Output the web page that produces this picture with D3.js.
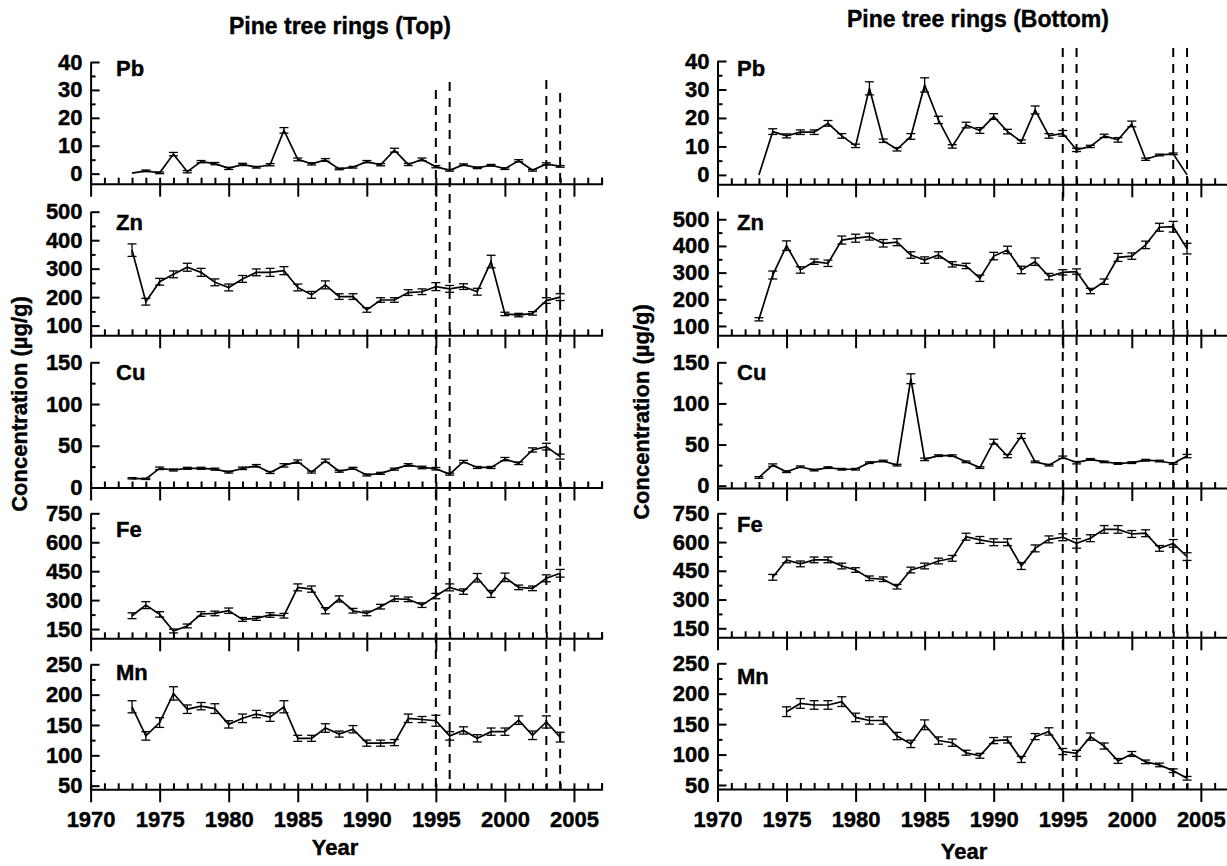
<!DOCTYPE html>
<html>
<head>
<meta charset="utf-8">
<script src="https://cdn.jsdelivr.net/npm/d3@7/dist/d3.min.js"></script>
<style>
  body { margin: 0; background: #fff; }
  svg text { font-family: "Liberation Sans", Arial, sans-serif; font-weight: bold; fill: #000; }
</style>
</head>
<body>
<svg id="chart" width="1227" height="866"></svg>
<script>
// sampling years (tree rings)
var years = [1973, 1974, 1975, 1976, 1977, 1978, 1979, 1980, 1981, 1982, 1983, 1984, 1985, 1986, 1987, 1988,
             1989, 1990, 1991, 1992, 1993, 1994, 1995, 1996, 1997, 1998, 1999, 2000, 2001, 2002, 2003, 2004];
var markYears = [1995, 1996, 2003, 2004];

// Top of the tree
var topPb = [0.2, 1.0, 0.3, 7.0, 0.7, 4.3, 3.6, 1.9, 3.3, 2.3, 3.2, 15.5, 5.1, 3.5, 4.9, 1.7,
             2.3, 4.3, 3.2, 8.4, 3.3, 5.1, 2.5, 1.2, 3.2, 2.1, 3.0, 1.8, 4.6, 1.2, 3.5, 2.6];
var topPbErr = [0, 0.3, 0.3, 0.6, 0.4, 0.4, 0.4, 0.4, 0.4, 0.3, 0.4, 1.0, 0.5, 0.4, 0.5, 0.3,
                0.3, 0.4, 0.4, 0.7, 0.4, 0.5, 0.4, 0.3, 0.3, 0.3, 0.3, 0.3, 0.4, 0.3, 0.4, 0.3];
var topZn = [365, 184, 254, 280, 305, 287, 252, 234, 264, 287, 287, 293, 234, 208, 243, 202,
             202, 155, 190, 190, 216, 219, 237, 229, 237, 219, 325, 141, 137, 143, 188, 200];
var topZnErr = [22, 12, 12, 12, 14, 14, 12, 12, 12, 12, 14, 14, 12, 12, 14, 10,
                10, 8, 8, 8, 10, 10, 14, 12, 10, 12, 22, 6, 6, 6, 10, 12];
var topCu = [11, 10.4, 23, 21, 23, 23, 22, 18.5, 23, 26, 18, 26.5, 31, 18.5, 32, 19.5,
             23, 15, 17, 22, 27, 24, 22.5, 16, 31, 24, 24, 34, 29, 45, 49, 37];
var topCuErr = [0.8, 0.8, 1.5, 1.2, 1.2, 1.2, 1.2, 1.2, 1.5, 1.5, 1.2, 2, 2, 1.2, 2, 1.2,
                1.2, 1.2, 1.2, 1.2, 1.5, 1.5, 1.5, 1.2, 1.5, 1.2, 1.2, 2, 1.5, 2.5, 4, 3];
var topFe = [219, 274, 226, 140, 166, 228, 231, 245, 200, 205, 223, 219, 366, 357, 245, 306,
             245, 231, 266, 307, 304, 274, 321, 366, 344, 416, 332, 418, 366, 361, 413, 439];
var topFeErr = [15, 18, 14, 10, 10, 12, 12, 14, 10, 10, 12, 12, 18, 16, 16, 16,
                12, 12, 12, 14, 12, 12, 14, 18, 14, 22, 18, 22, 12, 12, 18, 20];
var topMn = [180, 132, 154, 202, 176, 181, 177, 151, 161, 168, 163, 180, 128, 128, 145, 135,
             143, 120, 120, 121, 161, 159, 157, 132, 141, 128, 139, 139, 158, 133, 155, 130];
var topMnErr = [10, 7, 8, 11, 7, 6, 8, 6, 7, 6, 7, 10, 5, 5, 7, 5,
                6, 5, 5, 5, 7, 5, 9, 7, 6, 6, 6, 6, 7, 7, 10, 8];

// Bottom of the tree
var botPb = [0, 15.2, 13.7, 15, 15, 18.1, 13.7, 10.2, 30.4, 12, 9, 13.5, 31.6, 19.3, 10, 17.5,
             15.6, 20.5, 15.2, 11.7, 22.8, 13.7, 14.6, 8.8, 10, 13.7, 12.3, 17.9, 5.5, 7, 7.4, 0];
var botPbErr = [0, 1, 0.7, 0.8, 0.8, 1, 0.8, 0.6, 2.3, 0.6, 0.6, 1, 2.5, 1.3, 0.6, 1,
                1, 1, 0.8, 0.6, 1.4, 0.8, 1, 0.6, 0.4, 0.6, 0.8, 1, 0.4, 0.3, 0.3, 0];
var botZn = [125, 291, 401, 310, 341, 335, 422, 429, 435, 410, 414, 366, 347, 366, 331, 325,
             279, 362, 385, 310, 341, 285, 301, 304, 231, 266, 357, 362, 404, 470, 472, 390];
var botZnErr = [6, 15, 18, 12, 10, 12, 15, 15, 13, 14, 13, 12, 12, 12, 10, 10,
                12, 14, 14, 14, 14, 12, 10, 10, 10, 10, 15, 12, 14, 15, 20, 20];
var botCu = [10, 25, 17, 23, 19, 22, 20, 20, 28, 30, 25, 130, 32, 36.5, 36.5, 29,
             22, 53.5, 36, 60.4, 29, 25, 34.5, 28, 32, 29, 27, 28, 31, 30, 27, 36];
var botCuErr = [1, 1.5, 1, 1, 1, 1, 1, 1, 1, 1, 1, 6, 1.5, 1, 1, 1,
                1, 3, 2, 3, 1, 1, 1.5, 1.5, 1, 1, 1, 1, 1, 1, 1, 2];
var botFe = [null, 416, 507, 486, 507, 507, 475, 454, 411, 406, 367, 454, 475, 501, 515, 628,
             611, 599, 599, 475, 567, 614, 625, 593, 620, 666, 666, 642, 646, 567, 593, 524];
var botFeErr = [0, 15, 15, 15, 15, 15, 15, 12, 12, 12, 12, 15, 15, 15, 15, 18,
                18, 18, 18, 18, 18, 18, 18, 25, 18, 20, 20, 18, 18, 15, 20, 20];
var botMn = [null, null, 170.5, 184, 181.5, 181.5, 187, 161, 156, 156, 130.5, 117.5, 149, 123, 119.5, 103,
             98, 123, 124, 92, 129.5, 138, 105, 102, 129.5, 114, 89.5, 101, 88, 83, 73.5, 61];
var botMnErr = [0, 0, 8, 8, 7, 7, 8, 7, 6, 6, 6, 6, 8, 6, 6, 4,
                4, 5, 5, 5, 5, 6, 5, 5, 6, 5, 4, 4, 3, 3, 3, 3];

var pxPerYear = 13.81;

var columns = [
    {
        title: 'Pine tree rings (Top)', titleX: 340, titleY: 34,
        x0: 90.6, yTitleX: 19, yTitleY: 404, yearX: 335, yearY: 855,
        labelX: 116, dashTops: [90, 82, 80, 93],
        panels: [
            {name: 'Pb', values: topPb, errs: topPbErr, domain: [-3.6, 40], range: [183.7, 62], first: 0, last: 40, step: 10, labelY: 76},
            {name: 'Zn', values: topZn, errs: topZnErr, domain: [66, 500], range: [335.3, 211.7], first: 100, last: 500, step: 100, labelY: 230},
            {name: 'Cu', values: topCu, errs: topCuErr, domain: [0, 150], range: [487.5, 362.3], first: 0, last: 150, step: 50, labelY: 380},
            {name: 'Fe', values: topFe, errs: topFeErr, domain: [102, 750], range: [638.3, 513.3], first: 150, last: 750, step: 150, labelY: 537},
            {name: 'Mn', values: topMn, errs: topMnErr, domain: [44, 250], range: [789.3, 664.3], first: 50, last: 250, step: 50, labelY: 680}
        ]
    },
    {
        title: 'Pine tree rings (Bottom)', titleX: 978, titleY: 27,
        x0: 717.5, yTitleX: 641, yTitleY: 412, yearX: 964, yearY: 859,
        labelX: 737, dashTops: [48, 48, 48, 48],
        panels: [
            {name: 'Pb', values: botPb, errs: botPbErr, domain: [-3.3, 40], range: [184.3, 61], first: 0, last: 40, step: 10, labelY: 76},
            {name: 'Zn', values: botZn, errs: botZnErr, domain: [65, 531], range: [335.3, 211], first: 100, last: 500, step: 100, labelY: 230},
            {name: 'Cu', values: botCu, errs: botCuErr, domain: [-2.8, 150], range: [488, 362.3], first: 0, last: 150, step: 50, labelY: 380},
            {name: 'Fe', values: botFe, errs: botFeErr, domain: [103, 750], range: [637.3, 513.3], first: 150, last: 750, step: 150, labelY: 532},
            {name: 'Mn', values: botMn, errs: botMnErr, domain: [43.4, 250], range: [789, 663.3], first: 50, last: 250, step: 50, labelY: 684}
        ]
    }
];

var svg = d3.select('#chart');
svg.append('rect').attr('width', 1227).attr('height', 866).attr('fill', '#fff');

function styleAxis(g) {
    g.selectAll('path, line').attr('stroke', '#000').attr('stroke-width', 2);
    g.selectAll('text').style('font-size', '22px').style('font-family', '"Liberation Sans", Arial, sans-serif')
        .style('font-weight', 'bold').attr('fill', '#000')
        .attr('stroke', '#000').attr('stroke-width', 0.4);
}

function boldText(sel, size) {
    return sel.style('font-size', size + 'px').attr('stroke', '#000').attr('stroke-width', 0.4);
}

columns.forEach(function (col) {
    var x = d3.scaleLinear().domain([1970, 2007]).range([col.x0, col.x0 + 37 * pxPerYear]);
    var allYears = d3.range(1970, 2008);
    var majorYears = d3.range(1970, 2006, 5);

    boldText(svg.append('text').attr('x', col.titleX).attr('y', col.titleY)
        .attr('text-anchor', 'middle'), 23).text(col.title);

    col.panels.forEach(function (p, pi) {
        var y = d3.scaleLinear().domain(p.domain).range(p.range);
        var base = p.range[0];
        var majors = d3.range(p.first, p.last + p.step / 2, p.step);
        var minors = d3.range(p.first - p.step / 2, p.last, p.step).filter(function (v) {
            return v > p.domain[0] && v < p.domain[1];
        });
        var g = svg.append('g');

        // y axis: ticks pointing inward
        var ya = g.append('g').attr('transform', 'translate(' + col.x0 + ',0)')
            .call(d3.axisLeft(y).tickValues(majors).tickSizeInner(-9).tickSizeOuter(0).tickPadding(8));
        styleAxis(ya);
        var yMinor = g.append('g').attr('transform', 'translate(' + col.x0 + ',0)')
            .call(d3.axisLeft(y).tickValues(minors).tickSize(-5).tickFormat(''));
        yMinor.select('.domain').remove();
        styleAxis(yMinor);

        // x axis: minor ticks up every year, major ticks down every 5 years
        var xMinor = g.append('g').attr('transform', 'translate(0,' + base + ')')
            .call(d3.axisBottom(x).tickValues(allYears).tickSize(-6).tickFormat(''));
        styleAxis(xMinor);
        var xMajor = g.append('g').attr('transform', 'translate(0,' + base + ')')
            .call(d3.axisBottom(x).tickValues(majorYears).tickSizeInner(13).tickSizeOuter(0).tickPadding(9)
                .tickFormat(pi === col.panels.length - 1 ? d3.format('d') : ''));
        xMajor.select('.domain').remove();
        styleAxis(xMajor);

        var pts = years.map(function (yr, i) {
            return {year: yr, v: p.values[i], e: p.errs[i]};
        }).filter(function (d) { return d.v != null; });

        // error bars
        var eb = g.append('g').selectAll('g').data(pts.filter(function (d) { return d.e > 0; }))
            .enter().append('g');
        eb.append('line')
            .attr('x1', function (d) { return x(d.year); }).attr('x2', function (d) { return x(d.year); })
            .attr('y1', function (d) { return y(d.v - d.e); }).attr('y2', function (d) { return y(d.v + d.e); });
        [-1, 1].forEach(function (s) {
            eb.append('line')
                .attr('x1', function (d) { return x(d.year) - 4.5; }).attr('x2', function (d) { return x(d.year) + 4.5; })
                .attr('y1', function (d) { return y(d.v + s * d.e); }).attr('y2', function (d) { return y(d.v + s * d.e); });
        });
        eb.selectAll('line').attr('stroke', '#000').attr('stroke-width', 1.3);

        var line = d3.line().x(function (d) { return x(d.year); }).y(function (d) { return y(d.v); });
        g.append('path').datum(pts).attr('d', line)
            .attr('fill', 'none').attr('stroke', '#000').attr('stroke-width', 1.7);

        boldText(svg.append('text').attr('x', col.labelX).attr('y', p.labelY), 22).text(p.name);
    });

    // dashed reference years
    var bottom = col.panels[col.panels.length - 1].range[0];
    markYears.forEach(function (yr, i) {
        svg.append('line').attr('x1', x(yr)).attr('x2', x(yr))
            .attr('y1', col.dashTops[i]).attr('y2', bottom)
            .attr('stroke', '#000').attr('stroke-width', 2).attr('stroke-dasharray', '9,7');
    });

    boldText(svg.append('text').attr('transform', 'translate(' + col.yTitleX + ',' + col.yTitleY + ') rotate(-90)')
        .attr('text-anchor', 'middle').attr('dy', '0.35em'), 22)
        .text('Concentration (\u00b5g/g)');
    boldText(svg.append('text').attr('x', col.yearX).attr('y', col.yearY)
        .attr('text-anchor', 'middle'), 22).text('Year');
});
</script>
</body>
</html>
